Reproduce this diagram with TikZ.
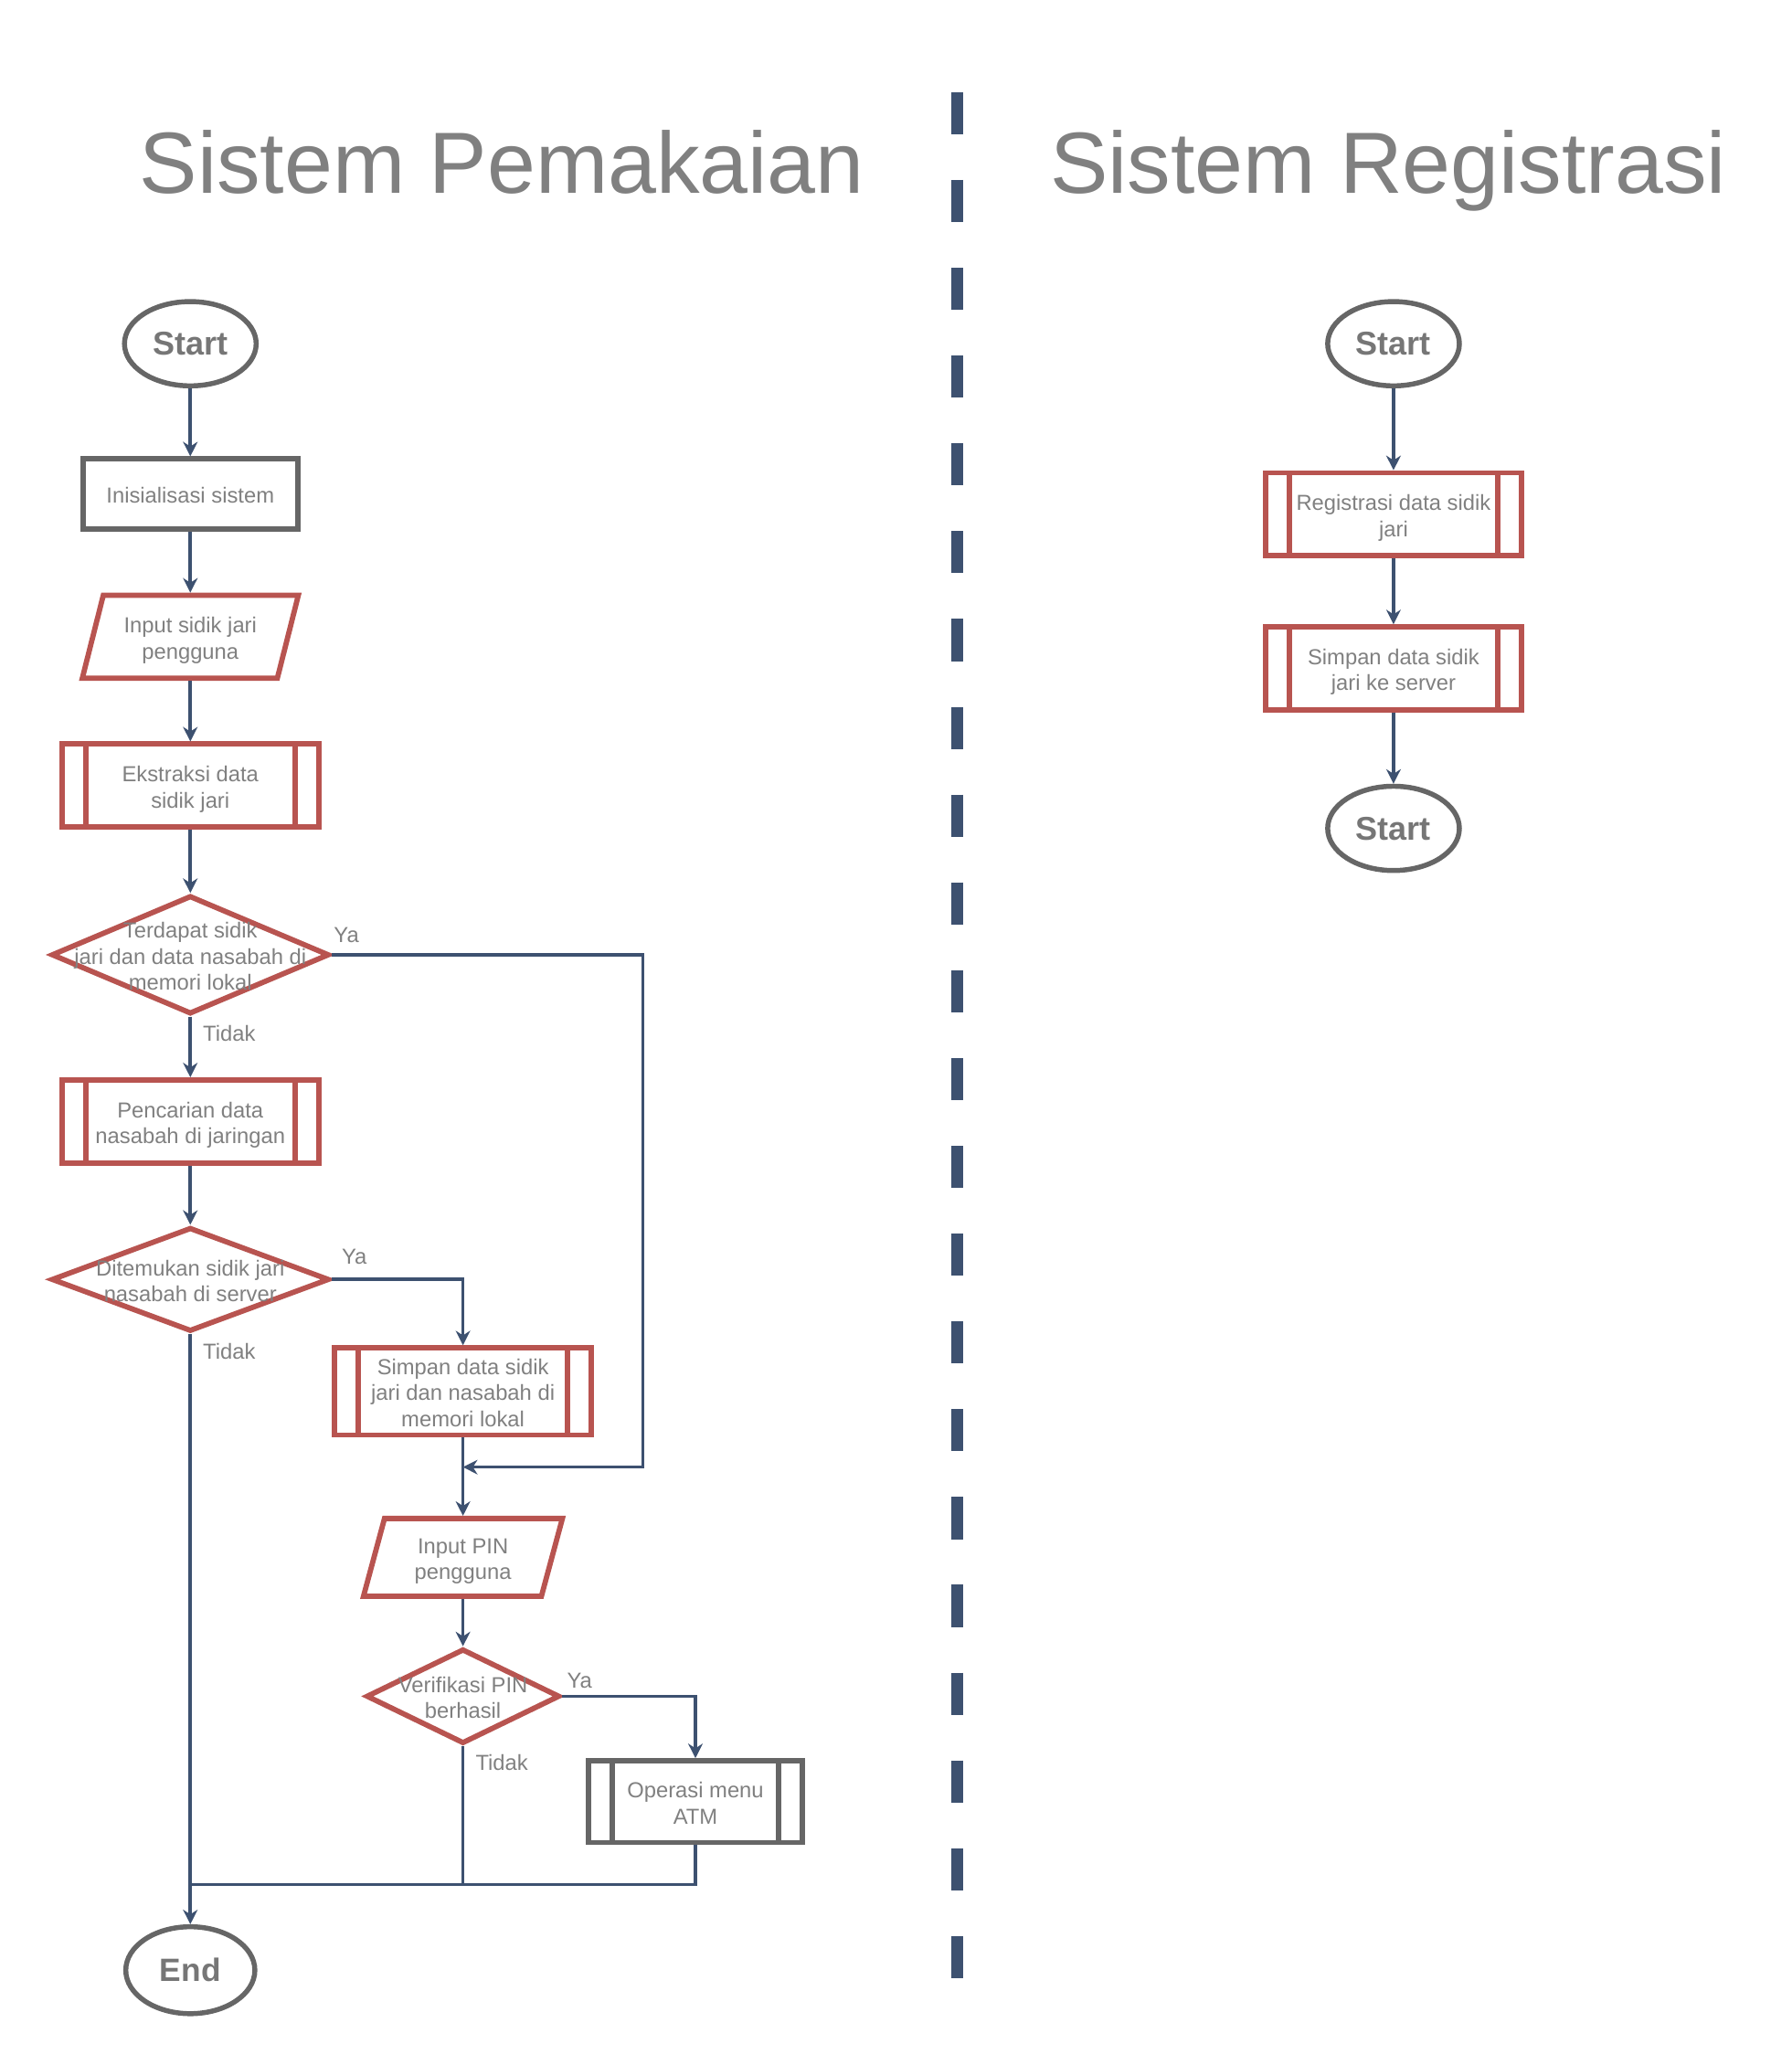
\documentclass[tikz,border=0pt]{standalone}
\usepackage{fontspec}
\setmainfont{Liberation Sans}
\usetikzlibrary{shapes.geometric,arrows.meta}
\definecolor{linec}{HTML}{3D5170}
\definecolor{redc}{HTML}{B85450}
\definecolor{grayc}{HTML}{666666}
\definecolor{textc}{HTML}{808080}
\newcommand{\dtext}[1]{\raisebox{-3pt}[\height][\depth]{\makebox[0pt]{\begin{tabular}{@{}c@{}}#1\end{tabular}}}}
\tikzset{
	every node/.style={text=textc, font=\fontsize{16.5}{19.8}\selectfont},
	term/.style={ellipse, draw=grayc, line width=3.8pt, minimum width=100pt, minimum height=64pt, inner sep=0pt, font=\fontsize{25}{30}\selectfont\bfseries, text=textc!92!black},
	procbox/.style={rectangle, draw=#1, line width=4pt, minimum width=163pt, minimum height=53pt},
	subproc/.style={rectangle, draw=#1, line width=4pt, minimum width=195pt, minimum height=63pt,
		path picture={\draw[#1, line width=4pt]
			([xshift=18pt]path picture bounding box.north west) -- ([xshift=18pt]path picture bounding box.south west)
			([xshift=-18pt]path picture bounding box.north east) -- ([xshift=-18pt]path picture bounding box.south east);}},
	iobox/.style={trapezium, trapezium left angle=71, trapezium right angle=109, trapezium stretches body, draw=redc, line width=4pt, minimum width=164pt, minimum height=63pt},
	decision/.style={diamond, draw=redc, line width=4pt, inner sep=0pt},
	conn/.style={draw=linec, line width=2.5pt, -{Stealth[length=11pt,width=11pt,inset=3.5pt]}},
	link/.style={draw=linec, line width=2.5pt}
}
\begin{document}
\begin{tikzpicture}[x=1pt,y=-1pt]
	\useasboundingbox (0,0) rectangle (1360,1568);
	% titles and divider
	\node[anchor=base, font=\fontsize{66}{79}\selectfont] (titleL) at (381,147) {Sistem Pemakaian};
	\node[anchor=base, font=\fontsize{66}{79}\selectfont] (titleR) at (1054,147) {Sistem Registrasi};
	\draw[linec, line width=9pt, dash pattern=on 32pt off 34.67pt] (727,70) -- (727,1502);
	% sistem pemakaian
	\node[term] (startL) at (144.5,261) {Start};
	\node[procbox=grayc] (init) at (144.5,375) {\dtext{Inisialisasi sistem}};
	\node[iobox] (inFp) at (144.5,483.5) {\dtext{Input sidik jari\\pengguna}};
	\node[subproc=redc] (ekstr) at (144.5,596.5) {\dtext{Ekstraksi data\\sidik jari}};
	\node[decision, minimum width=211pt, minimum height=90pt] (dec1) at (144.5,725) {\dtext{Terdapat sidik\\jari dan data nasabah di\\memori lokal}};
	\node[subproc=redc] (cari) at (144.5,851.5) {\dtext{Pencarian data\\nasabah di jaringan}};
	\node[decision, minimum width=211pt, minimum height=79pt] (dec2) at (144.5,971.5) {\dtext{Ditemukan sidik jari\\nasabah di server}};
	\node[subproc=redc] (simpanL) at (351.5,1056.5) {\dtext{Simpan data sidik\\jari dan nasabah di\\memori lokal}};
	\node[iobox, minimum width=151pt, minimum height=59pt] (inPin) at (351.5,1182.5) {\dtext{Input PIN\\pengguna}};
	\node[decision, minimum width=147pt, minimum height=72pt] (dec3) at (351.5,1288) {\dtext{Verifikasi PIN\\berhasil}};
	\node[subproc=grayc, minimum width=162pt, minimum height=62pt] (atm) at (528,1368) {\dtext{Operasi menu\\ATM}};
	\node[term, minimum width=98pt, minimum height=66pt, font=\fontsize{24.5}{29}\selectfont\bfseries] (endL) at (144.5,1496) {End};
	\coordinate (rt) at (488,1114);
	\coordinate (merge) at (351.5,1114);
	\coordinate (bot) at (144.5,1431);
	\draw[conn] (startL.south) -- (init.north);
	\draw[conn] (init.south) -- (inFp.north);
	\draw[conn] (inFp.south) -- (ekstr.north);
	\draw[conn] (ekstr.south) -- (dec1.north);
	\draw[conn] (dec1.south) -- (cari.north);
	\draw[conn] (dec1.east) -| (rt) -- (merge);
	\draw[conn] (cari.south) -- (dec2.north);
	\draw[conn] (dec2.east) -| (simpanL.north);
	\draw[conn] (dec2.south) -- (endL.north);
	\draw[conn] (simpanL.south) -- (inPin.north);
	\draw[conn] (inPin.south) -- (dec3.north);
	\draw[conn] (dec3.east) -| (atm.north);
	\draw[link] (dec3.south) |- (bot);
	\draw[link] (atm.south) |- (bot);
	\node (ya1) at (263,710) {Ya};
	\node (tidak1) at (174,785) {Tidak};
	\node (ya2) at (269,954) {Ya};
	\node (tidak2) at (174,1026) {Tidak};
	\node (ya3) at (440,1276) {Ya};
	\node (tidak3) at (381,1338) {Tidak};
	% sistem registrasi
	\node[term] (startR) at (1058,261) {Start};
	\node[subproc=redc, minimum width=194pt] (reg) at (1058,390.5) {\dtext{Registrasi data sidik\\jari}};
	\node[subproc=redc, minimum width=194pt] (simpanR) at (1058,507.5) {\dtext{Simpan data sidik\\jari ke server}};
	\node[term] (stopR) at (1058,629) {Start};
	\draw[conn] (startR.south) -- (reg.north);
	\draw[conn] (reg.south) -- (simpanR.north);
	\draw[conn] (simpanR.south) -- (stopR.north);
\end{tikzpicture}
\end{document}
